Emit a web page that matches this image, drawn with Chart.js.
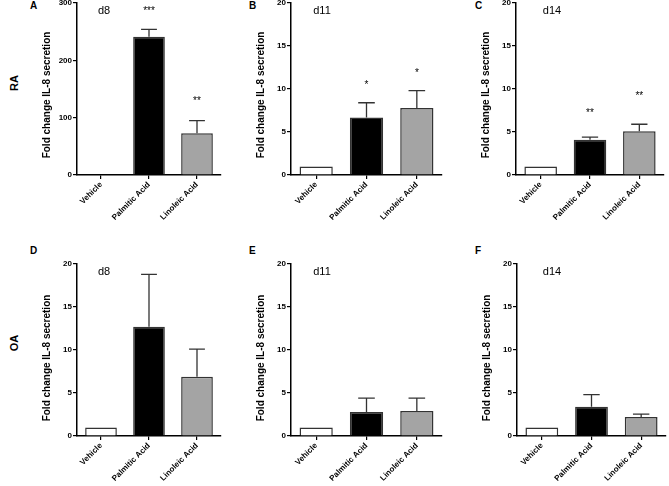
<!DOCTYPE html>
<html>
<head>
<meta charset="utf-8">
<script src="https://cdn.jsdelivr.net/npm/chart.js@4"></script>
<style>
  body { margin: 0; background: #fff; width: 669px; height: 486px; overflow: hidden; position: relative;
         font-family: Arial, "Liberation Sans", sans-serif; }
  canvas { position: absolute; }
  .lbl { position: absolute; font-weight: bold; color: #000; line-height: 12px; }
  .row { width: 30px; height: 12px; text-align: center; font-size: 11px; transform: rotate(-90deg); }
</style>
</head>
<body>
<div class="lbl row" style="left:-1px;top:77px">RA</div>
<div class="lbl row" style="left:-1px;top:337px">OA</div>
<div class="lbl" style="left:30px;top:0px;font-size:10px">A</div>
<div class="lbl" style="left:249px;top:0px;font-size:10px">B</div>
<div class="lbl" style="left:475px;top:0px;font-size:10px">C</div>
<div class="lbl" style="left:30px;top:245px;font-size:10px">D</div>
<div class="lbl" style="left:249px;top:245px;font-size:10px">E</div>
<div class="lbl" style="left:475px;top:245px;font-size:10px">F</div>
<script>
const categories = ['Vehicle', 'Palmitic Acid', 'Linoleic Acid'];

// RA, day 8 / 11 / 14
const raD8 = [1, 241, 73];
const raD8Sem = [0, 13, 22];
const raD8Stars = ['', '***', '**'];
const raD8StarAt = [null, 291, 134];

const raD11 = [1, 6.7, 7.8];
const raD11Sem = [0, 1.7, 2.0];
const raD11Stars = ['', '*', '*'];
const raD11StarAt = [null, 10.8, 12.2];

const raD14 = [1, 4.1, 5.1];
const raD14Sem = [0, 0.3, 0.8];
const raD14Stars = ['', '**', '**'];
const raD14StarAt = [null, 7.6, 9.5];

// OA, day 8 / 11 / 14
const oaD8 = [1, 12.7, 6.9];
const oaD8Sem = [0, 6.1, 3.2];

const oaD11 = [1, 2.8, 2.9];
const oaD11Sem = [0, 1.6, 1.5];

const oaD14 = [1, 3.4, 2.2];
const oaD14Sem = [0, 1.4, 0.35];

const dayLabels = ['d8', 'd11', 'd14', 'd8', 'd11', 'd14'];
const yMax = [300, 20, 20, 20, 20, 20];
const yStep = [100, 5, 5, 5, 5, 5];

const panels = [
  { values: raD8, sem: raD8Sem, stars: raD8Stars, starAt: raD8StarAt },
  { values: raD11, sem: raD11Sem, stars: raD11Stars, starAt: raD11StarAt },
  { values: raD14, sem: raD14Sem, stars: raD14Stars, starAt: raD14StarAt },
  { values: oaD8, sem: oaD8Sem },
  { values: oaD11, sem: oaD11Sem },
  { values: oaD14, sem: oaD14Sem }
];

// where each plot area sits on the page
const layout = [
  { left: 77, right: 221, top: 3, dayX: 27, titleDy: 6 },
  { left: 291, right: 442, top: 3, dayX: 31, titleDy: 6 },
  { left: 516, right: 664, top: 3, dayX: 36, titleDy: 6 },
  { left: 77, right: 221, top: 264, dayX: 27, titleDy: 8 },
  { left: 291, right: 442, top: 264, dayX: 31, titleDy: 8 },
  { left: 517, right: 666, top: 264, dayX: 35, titleDy: 8 }
];
const PLOT_H = 172, AXIS_W = 77, PAD_TOP = 15, XAXIS_H = 68;

const barFills = ['#ffffff', '#000000', '#a4a4a4'];
const tickFont = { family: 'Arial', size: 8, weight: 'bold' };

// error bars (upper only), stars, day label and y title
function makeDecor(p, l, day) {
  return {
    id: 'decor',
    afterDatasetsDraw(chart) {
      const ctx = chart.ctx;
      const y = chart.scales.y;
      const area = chart.chartArea;
      const bars = chart.getDatasetMeta(0).data;
      ctx.save();
      ctx.strokeStyle = '#333';
      ctx.lineWidth = 1.3;
      p.values.forEach((v, i) => {
        if (!p.sem[i]) return;
        const x = bars[i].x;
        const y0 = y.getPixelForValue(v);
        const y1 = y.getPixelForValue(v + p.sem[i]);
        const cap = bars[i].width / 4;
        ctx.beginPath();
        ctx.moveTo(x, y0);
        ctx.lineTo(x, y1);
        ctx.moveTo(x - cap, y1);
        ctx.lineTo(x + cap, y1);
        ctx.stroke();
      });
      ctx.fillStyle = '#000';
      ctx.textAlign = 'center';
      if (p.stars) {
        ctx.font = '10px Arial';
        ctx.textBaseline = 'alphabetic';
        p.stars.forEach((s, i) => {
          if (!s) return;
          ctx.fillText(s, bars[i].x, y.getPixelForValue(p.starAt[i]) + 6);
        });
      }
      ctx.font = '11px Arial';
      ctx.textBaseline = 'middle';
      ctx.fillText(day, area.left + l.dayX, area.top + 8);

      ctx.translate(area.left - 30, (area.top + area.bottom) / 2 + l.titleDy);
      ctx.rotate(-Math.PI / 2);
      ctx.font = 'bold 10px Arial';
      ctx.fillText('Fold change IL-8 secretion', 0, 0);
      ctx.restore();
    }
  };
}

panels.forEach((p, k) => {
  const l = layout[k];
  const cv = document.createElement('canvas');
  const cLeft = l.left - AXIS_W;
  const w = l.right - cLeft + 2;
  const h = PAD_TOP + PLOT_H + XAXIS_H;
  cv.width = w; cv.height = h;
  cv.style.left = cLeft + 'px';
  cv.style.top = (l.top - PAD_TOP) + 'px';
  cv.style.width = w + 'px';
  cv.style.height = h + 'px';
  document.body.appendChild(cv);

  new Chart(cv, {
    type: 'bar',
    data: {
      labels: categories,
      datasets: [{
        data: p.values,
        backgroundColor: barFills,
        borderColor: '#333',
        borderWidth: 1.5,
        barPercentage: 0.66,
        categoryPercentage: 1
      }]
    },
    options: {
      responsive: false,
      animation: false,
      layout: { padding: { top: PAD_TOP, right: 2, left: 0, bottom: 0 } },
      plugins: { legend: { display: false }, tooltip: { enabled: false } },
      scales: {
        x: {
          grid: { drawOnChartArea: false, offset: false, tickLength: 4, color: '#000', lineWidth: 1.2 },
          border: { color: '#000', width: 1.5 },
          ticks: { minRotation: 45, maxRotation: 45, color: '#000', font: tickFont, padding: 1 },
          afterFit: s => { s.height = XAXIS_H; }
        },
        y: {
          min: 0,
          max: yMax[k],
          grid: { drawOnChartArea: false, tickLength: 4, color: '#000', lineWidth: 1.2 },
          border: { color: '#000', width: 1.5 },
          ticks: { stepSize: yStep[k], color: '#000', font: tickFont, padding: 1 },
          afterFit: s => { s.width = AXIS_W; }
        }
      }
    },
    plugins: [makeDecor(p, l, dayLabels[k])]
  });
});
</script>
</body>
</html>
